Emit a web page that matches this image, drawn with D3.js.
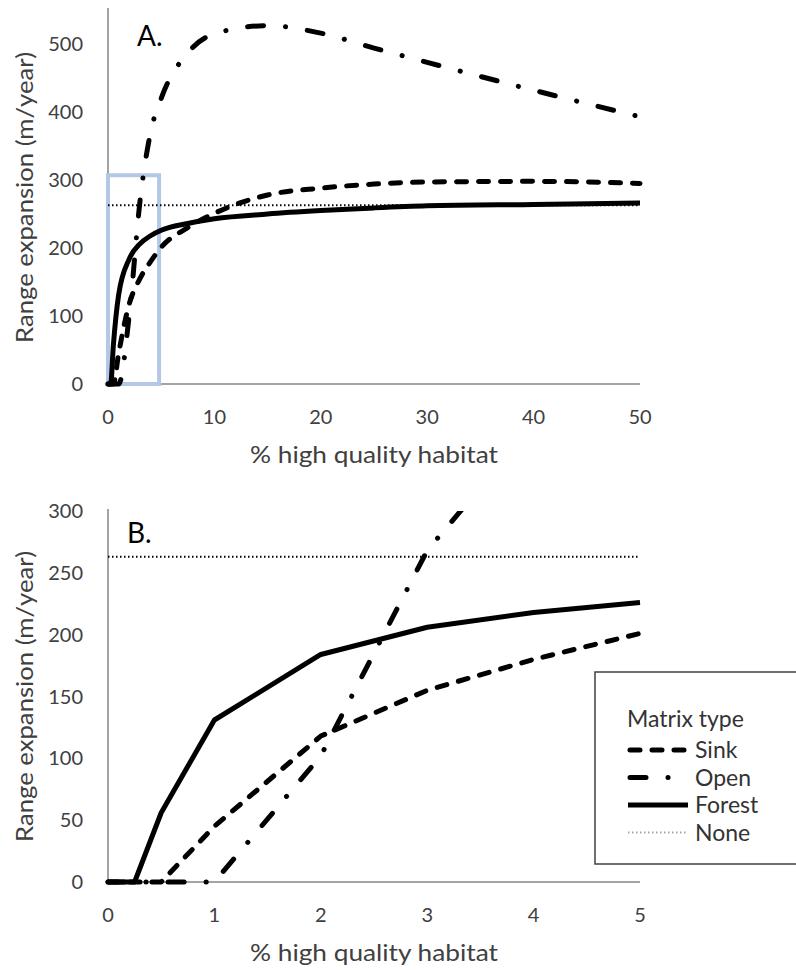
<!DOCTYPE html>
<html>
  <head>
    <meta charset="utf-8">
    <script src="https://d3js.org/d3.v7.min.js"></script>
    <title>Range expansion</title>
    <style type="text/css">
body {
  margin: 0;
  background-color: #fff;
}
svg {
  display: block;
  font-family: 'Lato', 'Open Sans', sans-serif;
}
.tick-label {
  font-size: 20px;
  fill: #404040;
}
.axis-title {
  font-size: 24px;
  fill: #404040;
}
.panel-label {
  font-size: 28px;
  fill: #000;
}
.legend text {
  font-size: 23px;
  fill: #333;
}
path.series {
  fill: none;
  stroke: #000;
}
    </style>
  </head>
  <body>

<svg></svg>

<script type="text/javascript">
// % high quality habitat
const pct = [0, 0.25, 0.5, 1, 2, 3, 4, 5, 7.5, 10, 15, 20, 25, 30, 40, 50];

// range expansion (m/year) per matrix type
const sink   = [0, 0, 0, 45, 118, 155, 180, 201, 230, 251, 278, 288, 294, 297, 298, 295];
const open   = [0, 0, 0, 0, 102, 268, 370, 420, 487, 515, 527, 516, 494, 473, 432, 393];
const forest = [0, 0, 56, 131, 184, 206, 218, 226, 236, 243, 250, 255, 259, 262, 264, 266];
const none   = 263;

// zoomed region shown in panel B
const zoomBox = {x: [0, 4.8], y: [0, 307]};

const ticksA = [0, 100, 200, 300, 400, 500];
const ticksAx = [0, 10, 20, 30, 40, 50];
const ticksB = [0, 50, 100, 150, 200, 250, 300];
const ticksBx = [0, 1, 2, 3, 4, 5];

const matrixTypes = ["Sink", "Open", "Forest", "None"];

const styles = {
  Sink:   {width: 5, dash: "10,12", cap: "round", color: "#000"},
  Open:   {width: 5, dash: "16,22,0.1,22", cap: "round", color: "#000"},
  Forest: {width: 5, dash: null, cap: "butt", color: "#000"},
  None:   {width: 2, dash: "1.5,2.5", cap: "butt", color: "#a6a6a6"}
};

const width = 796, height = 972;
const svg = d3.select("svg").attr("width", width).attr("height", height);

const seriesOf = name => {
  if (name === "None") return pct.map(p => ({p: p, v: none}));
  const vals = {Sink: sink, Open: open, Forest: forest}[name];
  return pct.map((p, i) => ({p: p, v: vals[i]}));
};

function panel(opt) {
  const x = d3.scaleLinear().domain(opt.xDomain).range([108, 640]);
  const y = d3.scaleLinear().domain(opt.yDomain).range(opt.yRange);
  const g = svg.append("g");

  g.append("clipPath").attr("id", "clip" + opt.id)
    .append("rect")
      .attr("x", x.range()[0] - 3)
      .attr("y", y(opt.yDomain[1]))
      .attr("width", x.range()[1] - x.range()[0] + 6)
      .attr("height", y(0) - y(opt.yDomain[1]) + 4);

  // axis lines
  g.append("line")
      .attr("x1", x(0)).attr("x2", x(0))
      .attr("y1", y(0)).attr("y2", y(opt.yDomain[1]) - 2)
      .attr("stroke", "#868686").attr("stroke-width", 1.5);
  g.append("line")
      .attr("x1", x(0)).attr("x2", x(opt.xDomain[1]))
      .attr("y1", y(0)).attr("y2", y(0))
      .attr("stroke", "#868686").attr("stroke-width", 1.5);

  g.selectAll(".ytick").data(opt.yTicks).enter().append("text")
      .attr("class", "tick-label")
      .attr("x", 83)
      .attr("y", d => y(d))
      .attr("dy", "0.35em")
      .attr("text-anchor", "end")
      .text(d => d);

  g.selectAll(".xtick").data(opt.xTicks).enter().append("text")
      .attr("class", "tick-label")
      .attr("x", d => x(d))
      .attr("y", y(0) + 40)
      .attr("text-anchor", "middle")
      .text(d => d);

  g.append("text")
      .attr("class", "axis-title")
      .attr("x", 250)
      .attr("y", y(0) + 79)
      .attr("textLength", 248)
      .attr("lengthAdjust", "spacingAndGlyphs")
      .text("% high quality habitat");

  g.append("text")
      .attr("class", "axis-title")
      .attr("transform", "translate(33," + opt.yTitleAt + ") rotate(-90)")
      .attr("x", -145)
      .attr("textLength", 291)
      .attr("lengthAdjust", "spacingAndGlyphs")
      .text("Range expansion (m/year)");

  g.append("text")
      .attr("class", "panel-label")
      .attr("x", opt.labelX)
      .attr("y", opt.labelY)
      .text(opt.label);

  if (opt.box) {
    g.append("rect")
        .attr("x", x(opt.box.x[0]))
        .attr("y", y(opt.box.y[1]))
        .attr("width", x(opt.box.x[1]) - x(opt.box.x[0]))
        .attr("height", y(opt.box.y[0]) - y(opt.box.y[1]))
        .attr("fill", "none")
        .attr("stroke", "#b4c7e7")
        .attr("stroke-width", 4);
  }

  const line = d3.line()
      .x(d => x(d.p))
      .y(d => y(d.v))
      .curve(opt.curve);

  const order = ["None", "Forest", "Sink", "Open"];
  g.append("g").attr("clip-path", "url(#clip" + opt.id + ")")
    .selectAll("path").data(order).enter().append("path")
      .attr("class", "series")
      .attr("d", name => line(seriesOf(name).filter(d => d.p <= opt.xDomain[1])))
      .attr("stroke", name => styles[name].color)
      .attr("stroke-width", name => styles[name].width)
      .attr("stroke-dasharray", name => styles[name].dash)
      .attr("stroke-linecap", name => styles[name].cap)
      .attr("stroke-linejoin", "round");
}

panel({id: "A", xDomain: [0, 50], yDomain: [0, 550], yRange: [384, 10],
  yTicks: ticksA, xTicks: ticksAx, yTitleAt: 198, label: "A.", labelX: 137, labelY: 46,
  box: zoomBox, curve: d3.curveMonotoneX});

panel({id: "B", xDomain: [0, 5], yDomain: [0, 300], yRange: [882, 511],
  yTicks: ticksB, xTicks: ticksBx, yTitleAt: 697, label: "B.", labelX: 127, labelY: 543,
  box: null, curve: d3.curveLinear});

// legend
const legend = svg.append("g").attr("class", "legend");
legend.append("rect")
    .attr("x", 595).attr("y", 672)
    .attr("width", 210).attr("height", 192)
    .attr("fill", "#fff")
    .attr("stroke", "#404040")
    .attr("stroke-width", 1.5);
legend.append("text")
    .attr("x", 627).attr("y", 727)
    .text("Matrix type");

const item = legend.selectAll(".item").data(matrixTypes).enter().append("g")
    .attr("transform", (d, i) => "translate(0," + (750 + i * 27.5) + ")");
item.append("line")
    .attr("x1", d => d === "Sink" || d === "Open" ? 630 : 628)
    .attr("x2", 688)
    .attr("stroke", d => styles[d].color)
    .attr("stroke-width", d => styles[d].width)
    .attr("stroke-dasharray", d => styles[d].dash)
    .attr("stroke-linecap", d => styles[d].cap);
item.append("text")
    .attr("x", 695)
    .attr("dy", "0.35em")
    .text(d => d);
</script>
